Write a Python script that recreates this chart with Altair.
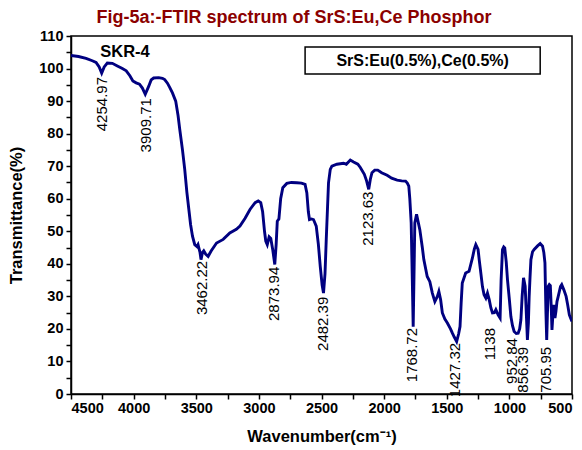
import altair as alt
import pandas as pd

# ---- spectrum data ----
wavenumber = [4500, 4440, 4380, 4330, 4300, 4275, 4255, 4235, 4210, 4170, 4130, 4090, 4059, 4030, 4006,
              3980, 3953, 3930, 3907, 3880, 3860, 3840, 3800, 3770, 3752, 3730, 3712, 3690, 3664, 3645,
              3632, 3610, 3592, 3575, 3560, 3545, 3530, 3512, 3495, 3486, 3470, 3462, 3450, 3440, 3425,
              3405, 3380, 3338, 3285, 3232, 3180, 3151, 3110, 3071, 3030, 3005, 2985, 2970, 2955, 2945,
              2933, 2918, 2905, 2890, 2873, 2862, 2853, 2840, 2826, 2809, 2777, 2740, 2697, 2660, 2631,
              2617, 2605, 2596, 2580, 2564, 2542, 2525, 2510, 2495, 2484, 2472, 2462, 2444, 2430, 2417,
              2377, 2324, 2302, 2270, 2244, 2210, 2190, 2158, 2140, 2123, 2110, 2097, 2075, 2051, 2020,
              1976, 1940, 1896, 1860, 1829, 1815, 1803, 1795, 1784, 1775, 1768, 1762, 1755, 1741, 1715,
              1695, 1683, 1656, 1635, 1615, 1595, 1575, 1563, 1549, 1535, 1515, 1495, 1470, 1455, 1440,
              1421, 1405, 1394, 1385, 1376, 1349, 1322, 1295, 1280, 1268, 1250, 1240, 1228, 1215, 1202,
              1188, 1175, 1161, 1148, 1135, 1120, 1108, 1090, 1074, 1066, 1055, 1045, 1037, 1025, 1015,
              1000, 988, 975, 962, 945, 930, 918, 908, 898, 887, 874, 865, 856, 848, 842,
              835, 828, 815, 802, 775, 754, 735, 725, 716, 708, 702, 696, 689, 681, 673,
              666, 660, 653, 646, 640, 636, 628, 620, 610, 601, 592, 582, 565, 547, 535,
              521, 510, 500]
transmittance = [104.0, 103.7, 103.1, 102.4, 101.9, 100.5, 98.6, 100.5, 101.7, 101.6, 100.8, 100.0, 99.3, 97.8, 96.2,
                 95.6, 95.2, 94.0, 92.1, 94.5, 96.5, 97.1, 97.2, 97.0, 96.6, 95.5, 94.2, 92.5, 90.0, 85.5,
                 81.4, 75.0, 69.0, 62.0, 57.0, 52.0, 48.5, 45.9, 45.3, 45.9, 43.5, 41.3, 43.5, 44.0, 43.0,
                 42.3, 44.0, 46.4, 47.5, 49.5, 50.6, 51.6, 54.0, 56.7, 58.8, 59.3, 58.8, 56.0, 50.0, 47.0,
                 45.9, 48.3, 47.8, 44.5, 39.8, 46.0, 53.1, 53.8, 60.0, 63.4, 64.7, 65.0, 64.9, 64.8, 64.4,
                 61.8, 56.0, 53.6, 53.8, 53.6, 51.6, 46.0, 39.2, 33.5, 31.0, 37.0, 47.5, 64.9, 69.0, 70.0,
                 70.6, 70.9, 70.6, 71.9, 71.3, 70.6, 69.6, 67.5, 65.5, 62.9, 66.0, 68.0, 68.8, 68.8, 68.0,
                 67.2, 66.3, 65.7, 65.5, 65.4, 64.8, 63.9, 60.0, 52.6, 35.0, 20.7, 35.0, 52.6, 55.2, 50.5,
                 45.0, 41.3, 36.1, 34.5, 31.0, 28.4, 30.0, 31.5, 29.0, 24.9, 23.0, 21.8, 20.0, 18.7, 17.5,
                 16.1, 18.5, 20.7, 28.0, 34.1, 37.2, 37.7, 41.8, 44.5, 45.9, 44.4, 41.0, 37.2, 33.0, 30.5,
                 29.5, 31.0, 29.0, 26.5, 24.9, 25.0, 25.9, 24.3, 23.3, 35.0, 44.4, 45.2, 44.9, 40.5, 35.1,
                 29.0, 23.8, 21.0, 19.2, 18.6, 18.7, 20.0, 22.8, 30.0, 35.7, 33.1, 25.0, 16.6, 22.0, 30.0,
                 36.0, 41.3, 43.7, 44.4, 45.5, 46.2, 45.4, 43.5, 40.3, 25.0, 16.6, 25.0, 33.1, 33.6, 33.3,
                 27.0, 19.7, 24.0, 27.4, 25.5, 23.3, 25.5, 28.4, 30.0, 31.5, 33.0, 33.6, 32.0, 30.0, 27.5,
                 24.3, 23.2, 22.3]

# ---- peak annotations ----
peak_labels = ["4254.97", "3909.71", "3462.22", "2873.94", "2482.39", "2123.63",
               "1768.72", "1427.32", "1138", "952.84", "856.39", "705.95"]
peak_label_x = [4252, 3905, 3456, 2880, 2488, 2128, 1778, 1432, 1152, 978, 890, 708]
peak_label_y = [97.4, 90.9, 40.9, 39.1, 29.9, 62.2, 20.3, 15.7, 20.3, 17.2, 14.5, 14.5]

title_text = "Fig-5a:-FTIR spectrum of SrS:Eu,Ce Phosphor"
legend_text = "SrS:Eu(0.5%),Ce(0.5%)"
sample_text = "SKR-4"

x_ticks = list(range(4500, 499, -250))
y_ticks = list(range(0, 111, 5))

FONT = "Liberation Sans"
LINE_COLOR = "#000080"

df = pd.DataFrame({"w": wavenumber, "t": transmittance, "i": list(range(len(wavenumber)))})
df_peaks = pd.DataFrame({"w": peak_label_x, "t": peak_label_y, "label": peak_labels})
df_box = pd.DataFrame({"x1": [2631], "x2": [754], "y1": [106.6], "y2": [98.3],
                       "xc": [1692.5], "yc": [102.45], "label": [legend_text]})
df_sample = pd.DataFrame({"w": [4069], "t": [105.1], "label": [sample_text]})
df_title = pd.DataFrame({"label": [title_text]})

xscale = alt.Scale(domain=[500, 4500], reverse=True, nice=False, zero=False)
yscale = alt.Scale(domain=[0, 110], nice=False, zero=False)

xaxis = alt.Axis(values=x_ticks, format="d", labelOverlap=False, tickCount=17,
                 labelExpr="datum.value % 500 == 0 ? datum.label : ''",
                 title="Wavenumber(cm⁻¹)", labelPadding=2, titlePadding=14)
yaxis = alt.Axis(values=y_ticks, format="d", labelOverlap=False, tickCount=23,
                 labelExpr="datum.value % 10 == 0 ? datum.label : ''",
                 title="Transmittance(%)", labelPadding=3, titlePadding=14)


def X(field):
    return alt.X(field, scale=xscale, axis=xaxis)


def Y(field):
    return alt.Y(field, scale=yscale, axis=yaxis)


line = alt.Chart(df).mark_line(color=LINE_COLOR, strokeWidth=2.9, clip=True).encode(
    x=X("w:Q"), y=Y("t:Q"), order="i:Q")

peaks = alt.Chart(df_peaks).mark_text(angle=270, align="right", baseline="middle",
                                      fontSize=15, font=FONT, color="black").encode(
    x=X("w:Q"), y=Y("t:Q"), text="label:N")

box = alt.Chart(df_box).mark_rect(fill="white", stroke="black", strokeWidth=1.5).encode(
    x=X("x1:Q"), x2="x2:Q", y=Y("y1:Q"), y2="y2:Q")

box_text = alt.Chart(df_box).mark_text(fontSize=16, font=FONT, fontWeight="bold",
                                       color="black", baseline="middle").encode(
    x=X("xc:Q"), y=Y("yc:Q"), text="label:N")

sample = alt.Chart(df_sample).mark_text(fontSize=16.5, font=FONT, fontWeight="bold",
                                        color="black", baseline="middle").encode(
    x=X("w:Q"), y=Y("t:Q"), text="label:N")

# chart title, centred over the whole figure (slightly left of the plot centre)
title = alt.Chart(df_title).mark_text(fontSize=18, font=FONT, fontWeight="bold",
                                      color="#8B0000", align="center",
                                      baseline="alphabetic").encode(
    x=alt.value(223), y=alt.value(-13), text="label:N")

chart = alt.layer(line, peaks, box, box_text, sample, title).properties(
    width=501, height=358,
    padding={"left": 63, "top": 28, "right": 2, "bottom": 54},
    autosize=alt.AutoSizeParams(type="none"),
).configure_view(stroke="black", strokeWidth=1.5).configure_axis(
    grid=False, labelOverlap=False,
    labelFont=FONT, labelFontSize=14.5, labelFontWeight="bold", labelColor="black",
    titleFont=FONT, titleFontSize=16.5, titleFontWeight="bold", titleColor="black",
    domainColor="black", domainWidth=1.5, tickColor="black", tickWidth=1.5, tickSize=5,
)

chart.save("out.html", embed_options={"renderer": "svg", "actions": False})
